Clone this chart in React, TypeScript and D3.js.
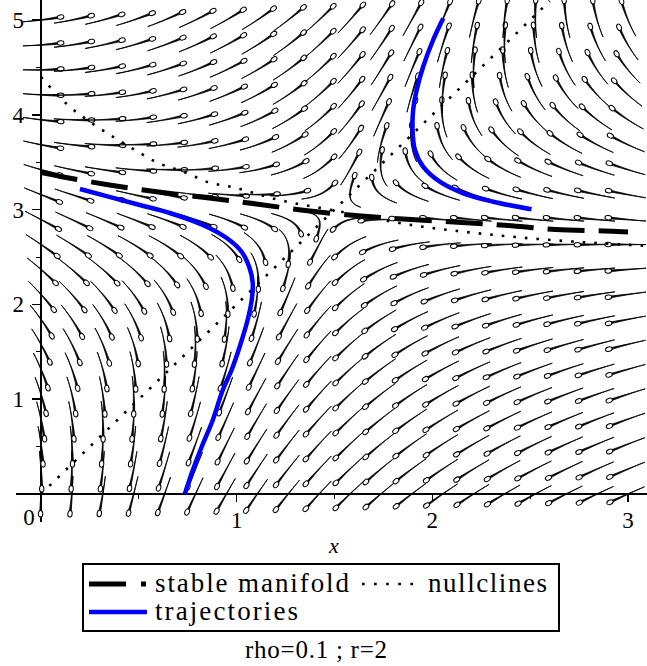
import React, { useMemo } from "react";
import * as d3 from "d3";

// ---- model parameters (from caption) ----
const RHO = 0.1;
const R = 2;
const CAPTION = "rho=0.1 ; r=2";

// ---- axes ----
const X_TICKS = [1, 2, 3];
const Y_TICKS = [1, 2, 3, 4, 5];
const X_MINOR = [0.5, 1.5, 2.5];
const Y_MINOR = [0.5, 1.5, 2.5, 3.5, 4.5];

// ---- direction field grid ----
const FIELD_X_RANGE = [0, 3];
const FIELD_Y_RANGE = [0, 5];
const FIELD_N = 20;

// ---- nullclines ----
const NULL_Y_X = [0, 0.133, 0.276, 0.378, 0.48, 0.58, 0.745, 0.852, 0.973, 1.2, 1.5, 1.95, 2.19, 2.54, 3.08];
const NULL_Y_Y = [4.4, 4.11, 3.89, 3.755, 3.63, 3.51, 3.386, 3.29, 3.24, 3.11, 2.99, 2.82, 2.76, 2.69, 2.62];
const NULL_X_X = [0, 2.6];
const NULL_X_Y = [0, 5.2];

// ---- stable manifold ----
const MANIFOLD_X = [0, 0.1, 0.35, 0.62, 0.87, 1.1, 1.35, 1.62, 1.85, 2.11, 2.37, 2.63, 2.88, 3.0];
const MANIFOLD_Y = [3.39, 3.35, 3.26, 3.18, 3.12, 3.06, 2.99, 2.935, 2.9, 2.87, 2.835, 2.79, 2.775, 2.765];

// ---- trajectories ----
const TRAJ1_X = [0.199, 0.505, 0.658, 0.827, 0.949, 1.026, 1.066, 1.082, 1.077, 1.056, 1.015, 0.974, 0.929, 0.878, 0.821, 0.776, 0.735];
const TRAJ1_Y = [3.217, 3.049, 2.964, 2.838, 2.7, 2.553, 2.384, 2.226, 2.046, 1.835, 1.551, 1.308, 1.097, 0.781, 0.496, 0.253, 0.0];
const TRAJ2_X = [2.056, 2.004, 1.953, 1.92, 1.902, 1.899, 1.911, 1.953, 2.038, 2.158, 2.311, 2.507];
const TRAJ2_Y = [5.018, 4.789, 4.507, 4.262, 4.051, 3.84, 3.629, 3.453, 3.294, 3.172, 3.083, 3.003];

const LEGEND_ITEMS = ["stable manifold", "nullclines", "trajectories"];

const W = 647;
const H = 666;
const FONT = "'Liberation Serif', 'Times New Roman', Times, 'DejaVu Serif', serif";

const xS = d3.scaleLinear().domain([0, 3]).range([41, 628]);
const yS = d3.scaleLinear().domain([0, 5]).range([494, 20]);
const SX = xS(1) - xS(0);
const SY = yS(0) - yS(1);

const hScale = d3.scaleLinear().domain(NULL_Y_X).range(NULL_Y_Y);
function field(x: number, y: number): [number, number] {
  return [y - R * x, (RHO + R) * (y - hScale(x))];
}

function dirPx(X: number, Y: number): [number, number] {
  const [fx, fy] = field(xS.invert(X), yS.invert(Y));
  const vx = fx * SX;
  const vy = -fy * SY;
  const m = Math.hypot(vx, vy);
  return m < 1e-9 ? [0, 0] : [vx / m, vy / m];
}

function trace(cx: number, cy: number, sign: number, n: number, step: number) {
  const pts: [number, number][] = [[cx, cy]];
  let p: [number, number] = [cx, cy];
  for (let i = 0; i < n; i++) {
    const d1 = dirPx(p[0], p[1]);
    const mid: [number, number] = [p[0] + (sign * d1[0] * step) / 2, p[1] + (sign * d1[1] * step) / 2];
    const d2 = dirPx(mid[0], mid[1]);
    p = [p[0] + sign * d2[0] * step, p[1] + sign * d2[1] * step];
    pts.push(p);
  }
  return pts;
}

function cometArrow(cx: number, cy: number) {
  const half = 18;
  const fwd = trace(cx, cy, 1, half, 1);
  const bwd = trace(cx, cy, -1, half, 1);
  const pts = bwd.reverse().concat(fwd.slice(1));
  const N = pts.length;
  const left: [number, number][] = [];
  const right: [number, number][] = [];
  for (let i = 0; i < N; i++) {
    const a = pts[Math.max(0, i - 1)];
    const b = pts[Math.min(N - 1, i + 1)];
    let tx = b[0] - a[0];
    let ty = b[1] - a[1];
    const m = Math.hypot(tx, ty) || 1;
    tx /= m;
    ty /= m;
    const w = 0.9 * Math.pow(i / (N - 1), 1.5);
    left.push([pts[i][0] - ty * w, pts[i][1] + tx * w]);
    right.push([pts[i][0] + ty * w, pts[i][1] - tx * w]);
  }
  const body =
    "M" + left.map((p) => p[0].toFixed(2) + "," + p[1].toFixed(2)).join("L") +
    "L" + right.reverse().map((p) => p[0].toFixed(2) + "," + p[1].toFixed(2)).join("L") + "Z";
  const hp = pts[N - 1];
  const hq = pts[N - 3];
  const ang = (Math.atan2(hp[1] - hq[1], hp[0] - hq[0]) * 180) / Math.PI;
  const ux = Math.cos((ang * Math.PI) / 180);
  const uy = Math.sin((ang * Math.PI) / 180);
  return { body, hx: hp[0] + ux * 1.8, hy: hp[1] + uy * 1.8, ang };
}

export default function App() {
  const arrows = useMemo(() => {
    const out: { body: string; hx: number; hy: number; ang: number }[] = [];
    for (let i = 0; i < FIELD_N; i++) {
      for (let j = 0; j < FIELD_N; j++) {
        const x = FIELD_X_RANGE[0] + ((FIELD_X_RANGE[1] - FIELD_X_RANGE[0]) * i) / (FIELD_N - 1);
        const y = FIELD_Y_RANGE[0] + ((FIELD_Y_RANGE[1] - FIELD_Y_RANGE[0]) * j) / (FIELD_N - 1);
        out.push(cometArrow(xS(x), yS(y)));
      }
    }
    return out;
  }, []);

  const lineXY = (xs: number[], ys: number[], curve: d3.CurveFactory) =>
    d3
      .line<number>()
      .x((_, i) => xS(xs[i]))
      .y((_, i) => yS(ys[i]))
      .curve(curve)(xs.map((_, i) => i)) || "";

  const nullY = lineXY(NULL_Y_X, NULL_Y_Y, d3.curveMonotoneX);
  const nullX = lineXY(NULL_X_X, NULL_X_Y, d3.curveLinear);
  const manifold = lineXY(MANIFOLD_X, MANIFOLD_Y, d3.curveCatmullRom);
  const traj1 = lineXY(TRAJ1_X, TRAJ1_Y, d3.curveCatmullRom);
  const traj2 = lineXY(TRAJ2_X, TRAJ2_Y, d3.curveCatmullRom);

  const txt = { fontFamily: FONT, fill: "#000" } as const;

  return (
    <svg
      width={W}
      height={H}
      viewBox={`0 0 ${W} ${H}`}
      style={{ position: "absolute", left: 0, top: 0, display: "block", background: "#fff" }}
    >
      <rect x={0} y={0} width={W} height={H} fill="#fff" />
      <defs>
        <clipPath id="plotclip">
          <rect x={0} y={0} width={W} height={530} />
        </clipPath>
      </defs>

      {/* axes */}
      <g shapeRendering="crispEdges">
        <line x1={16} x2={W} y1={yS(0)} y2={yS(0)} stroke="#000" strokeWidth={1.5} />
        <line x1={xS(0)} x2={xS(0)} y1={0} y2={522} stroke="#000" strokeWidth={1.5} />
        {Y_TICKS.map((t) => (
          <line key={"yt" + t} x1={xS(0) - 9} x2={xS(0)} y1={yS(t)} y2={yS(t)} stroke="#000" strokeWidth={1.5} />
        ))}
        {Y_MINOR.map((t) => (
          <line key={"ym" + t} x1={xS(0) - 5} x2={xS(0)} y1={yS(t)} y2={yS(t)} stroke="#000" strokeWidth={1} />
        ))}
        {X_TICKS.map((t) => (
          <line key={"xt" + t} x1={xS(t)} x2={xS(t)} y1={yS(0)} y2={yS(0) + 8} stroke="#000" strokeWidth={1.5} />
        ))}
        {X_MINOR.map((t) => (
          <line key={"xm" + t} x1={xS(t)} x2={xS(t)} y1={yS(0)} y2={yS(0) + 5} stroke="#000" strokeWidth={1} />
        ))}
      </g>

      {/* direction field */}
      <g clipPath="url(#plotclip)">
        {arrows.map((a, k) => (
          <g key={k}>
            <path d={a.body} fill="#000" stroke="#000" strokeWidth={0.9} strokeLinejoin="round" />
            <ellipse
              cx={a.hx}
              cy={a.hy}
              rx={3.3}
              ry={2.2}
              transform={`rotate(${a.ang} ${a.hx} ${a.hy})`}
              fill="#fff"
              stroke="#000"
              strokeWidth={1}
            />
          </g>
        ))}
      </g>

      {/* nullclines */}
      <path d={nullY} fill="none" stroke="#000" strokeWidth={2.6} strokeDasharray="2.6 9" />
      <path d={nullX} fill="none" stroke="#000" strokeWidth={2.6} strokeDasharray="2.6 9" />

      {/* stable manifold */}
      <path d={manifold} fill="none" stroke="#000" strokeWidth={5} strokeDasharray="37 14" />

      {/* trajectories */}
      <path d={traj1} fill="none" stroke="#0000ff" strokeWidth={4.5} />
      <path d={traj2} fill="none" stroke="#0000ff" strokeWidth={4.5} />

      {/* tick labels */}
      {Y_TICKS.map((t) => (
        <text key={"yl" + t} x={24} y={yS(t) + 8} fontSize={23} textAnchor="end" style={txt}>
          {t}
        </text>
      ))}
      <text x={29} y={525} fontSize={23} textAnchor="middle" style={txt}>
        0
      </text>
      {X_TICKS.map((t) => (
        <text key={"xl" + t} x={xS(t)} y={528} fontSize={23} textAnchor="middle" style={txt}>
          {t}
        </text>
      ))}
      <text x={334} y={553} fontSize={22} fontStyle="italic" textAnchor="middle" style={txt}>
        x
      </text>

      {/* legend */}
      <rect x={83} y={564} width={476} height={67} fill="#fff" stroke="#000" strokeWidth={1.2} shapeRendering="crispEdges" />
      <line x1={89} x2={146} y1={584} y2={584} stroke="#000" strokeWidth={5} strokeDasharray="37 15" />
      <text x={155} y={592} fontSize={27} textLength={194} lengthAdjust="spacing" style={txt}>
        {LEGEND_ITEMS[0]}
      </text>
      <line x1={362} x2={415} y1={584} y2={584} stroke="#000" strokeWidth={2.6} strokeDasharray="2.6 9.5" />
      <text x={428} y={592} fontSize={27} textLength={119} lengthAdjust="spacing" style={txt}>
        {LEGEND_ITEMS[1]}
      </text>
      <line x1={89} x2={147} y1={612} y2={612} stroke="#0000ff" strokeWidth={4.5} />
      <text x={155} y={620} fontSize={27} textLength={143} lengthAdjust="spacing" style={txt}>
        {LEGEND_ITEMS[2]}
      </text>

      {/* caption */}
      <text x={316} y={658} fontSize={25} textLength={142} lengthAdjust="spacing" textAnchor="middle" style={txt}>
        {CAPTION}
      </text>
    </svg>
  );
}
